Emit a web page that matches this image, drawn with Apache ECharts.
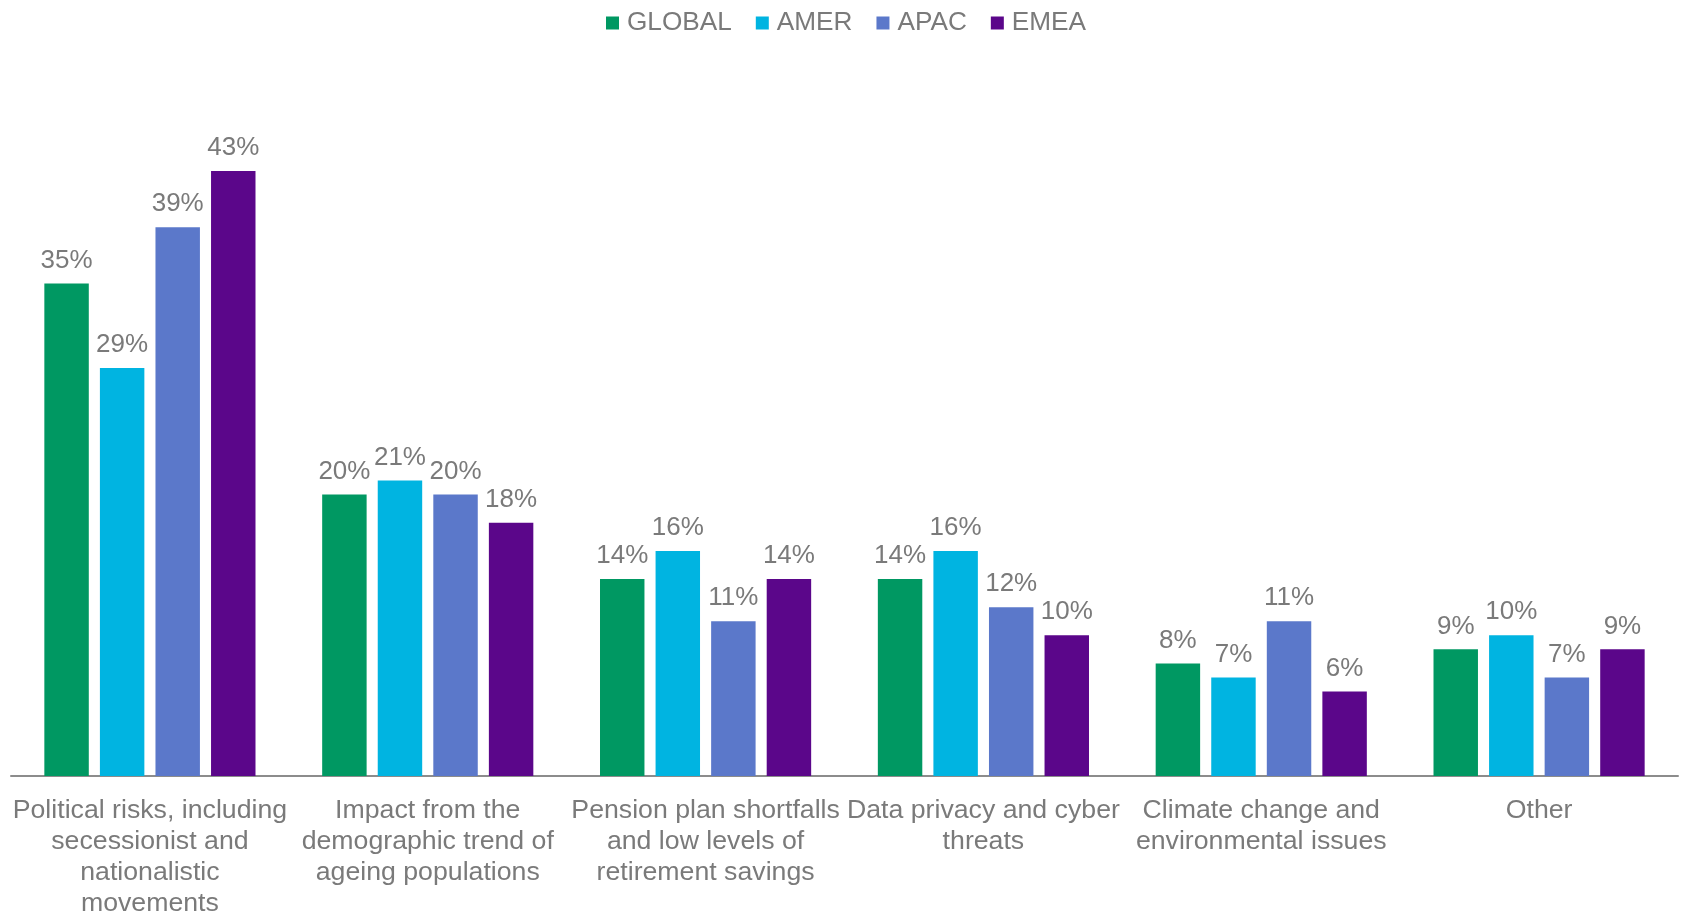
<!DOCTYPE html>
<html>
<head>
<meta charset="utf-8">
<script src="https://cdn.jsdelivr.net/npm/echarts@6/dist/echarts.min.js"></script>
<style>
html,body{margin:0;padding:0;background:#fff;}
#chart{width:1683px;height:912px;}
</style>
</head>
<body>
<div id="chart"></div>
<script>
const categories = [
  "Political risks, including\nsecessionist and\nnationalistic\nmovements",
  "Impact from the\ndemographic trend of\nageing populations",
  "Pension plan shortfalls\nand low levels of\nretirement savings",
  "Data privacy and cyber\nthreats",
  "Climate change and\nenvironmental issues",
  "Other"
];
const seriesNames = ["GLOBAL", "AMER", "APAC", "EMEA"];
const globalVals = [35, 20, 14, 14, 8, 9];
const amerVals = [29, 21, 16, 16, 7, 10];
const apacVals = [39, 20, 11, 12, 11, 7];
const emeaVals = [43, 18, 14, 10, 6, 9];
const colors = ["#009862", "#00B4E1", "#5B78CA", "#5B068A"];

const textColor = "#7a7a7a";
const fontFamily = "Liberation Sans, Arial, sans-serif";
const allVals = [globalVals, amerVals, apacVals, emeaVals];

const chart = echarts.init(document.getElementById('chart'));
chart.setOption({
  animation: false,
  color: colors,
  legend: {
    data: seriesNames,
    top: 5,
    left: 601,
    itemWidth: 13,
    itemHeight: 13,
    itemGap: 24,
    icon: 'rect',
    textStyle: { color: textColor, fontSize: 26.2, fontFamily: fontFamily, padding: [0, 0, 0, 3] }
  },
  grid: { left: 11, right: 5, top: 72.5, bottom: 136, containLabel: false, outerBoundsMode: 'none' },
  xAxis: {
    type: 'category',
    data: categories,
    axisLine: { lineStyle: { color: '#8c8c8c', width: 2 } },
    axisTick: { show: false },
    axisLabel: {
      interval: 0,
      color: textColor,
      fontSize: 26.7,
      lineHeight: 31,
      fontFamily: fontFamily,
      margin: 19
    }
  },
  yAxis: {
    type: 'value',
    min: 0,
    max: 50,
    show: false,
    splitLine: { show: false }
  },
  series: seriesNames.map((name, i) => ({
    name: name,
    type: 'bar',
    data: allVals[i],
    barGap: '25%',
    barCategoryGap: '24%',
    itemStyle: { color: colors[i] },
    label: {
      show: true,
      position: 'top',
      distance: 10,
      formatter: '{c}%',
      color: textColor,
      fontSize: 26,
      fontFamily: fontFamily
    }
  }))
});
</script>
</body>
</html>
